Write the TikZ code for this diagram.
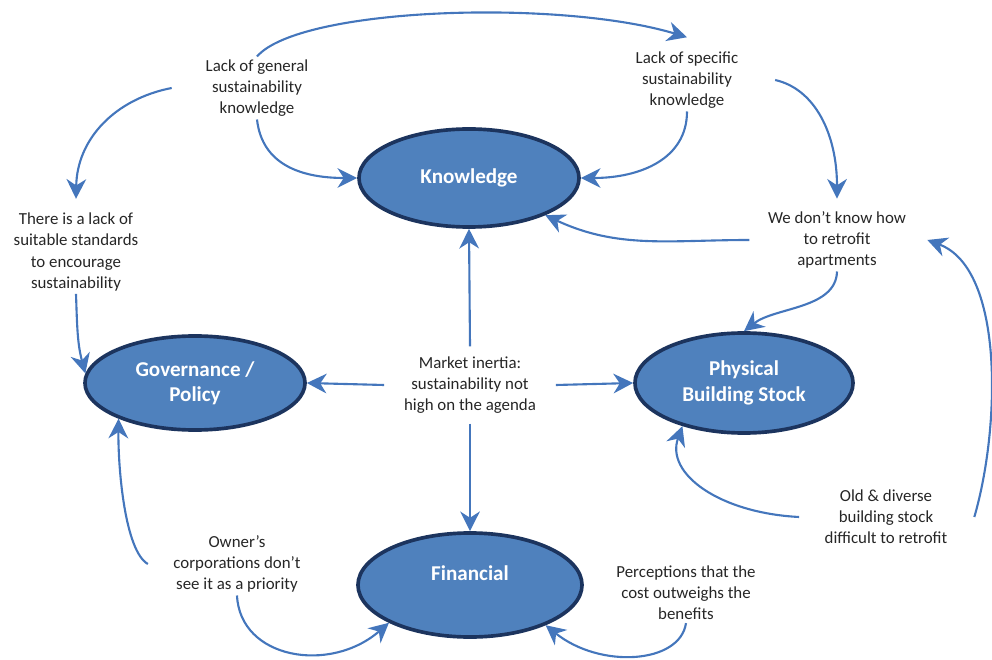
\documentclass[tikz,border=0pt]{standalone}
\usepackage{fontspec}
\setmainfont{Carlito}
\usetikzlibrary{arrows.meta,shapes.geometric,positioning}
\definecolor{hubblue}{RGB}{79,129,189}
\definecolor{hubedge}{RGB}{28,52,94}
\definecolor{arrblue}{RGB}{68,118,188}
\tikzset{  hub/.style={draw=hubedge,line width=2.6pt,fill=hubblue,ellipse,inner sep=0pt,minimum width=5.5cm,minimum height=2.45cm,align=center,text=white,font=\fontsize{15}{18}\selectfont\bfseries},
  note/.style={align=center,inner sep=2pt,text=black!85,font=\fontsize{12}{15}\selectfont},
  arr/.style={draw=arrblue,line width=1.5pt,-{Stealth[length=14pt,width=14pt,inset=4.5pt]}} }

\begin{document}
\begin{tikzpicture}[x=0.025cm,y=0.025cm]
    \useasboundingbox (0,0) rectangle (992,659);
    \node[hub] (know) at (469,481) {Knowledge};
    \node[hub,minimum height=2.35cm] (gov) at (195,276) {Governance /\\Policy};
    \node[hub,minimum width=5.45cm,minimum height=2.5cm] (phys) at (744,276) {Physical\\Building Stock};
    \node[hub,minimum width=5.6cm,minimum height=2.6cm,text height=10pt,text depth=17pt] (fin) at (470,74) {Financial};
    \node[note] (genk) at (257,571) {Lack of general\\sustainability\\knowledge};
    \node[note] (speck) at (687,579) {Lack of specific\\sustainability\\knowledge};
    \node[note] (stand) at (76,407) {There is a lack of\\suitable standards\\to encourage\\sustainability};
    \node[note] (dontk) at (837,419) {We don’t know how\\to retrofit\\apartments};
    \node[note,inner xsep=14pt,inner ysep=7pt] (market) at (470,274) {Market inertia:\\sustainability not\\high on the agenda};
    \node[note] (old) at (886,142) {Old \& diverse\\building stock\\difficult to retrofit};
    \node[note] (owner) at (237,95) {Owner’s\\corporations don’t\\see it as a priority};
    \node[note] (percep) at (686,66) {Perceptions that the\\cost outweighs the\\benefits};
    % knowledge loop
    \draw[arr] (genk.north) .. controls (300,652) and (560,660) .. ([yshift=8pt]speck.north);
    \draw[arr] ([xshift=-22pt]genk.west) .. controls (115,560) and (77,520) .. ([yshift=8pt]stand.north);
    \draw[arr] (genk.south) .. controls (262,495) and (300,481) .. (know.west);
    \draw[arr] (speck.south) .. controls (687,500) and (640,481) .. (know.east);
    \draw[arr] ([xshift=24pt]speck.east) .. controls (815,570) and (837,525) .. ([yshift=7pt]dontk.north);
    \draw[arr] ([xshift=-11pt]dontk.west) to[out=180,in=-25] (know.-26);
    \draw[arr] (dontk.south) .. controls (836,350) and (775,352) .. (phys.north);
    % building stock
    \draw[arr] ([xshift=17pt]old.east) .. controls (1000,230) and (1005,390) .. ([xshift=13pt]dontk.east);
    \draw[arr] ([xshift=-16pt]old.west) .. controls (720,146) and (665,185) .. (phys.215);
    % market inertia
    \draw[arr] (market.north) -- (know.south);
    \draw[arr] (market.west) -- (gov.east);
    \draw[arr] (market.east) -- (phys.west);
    \draw[arr] (market.south) -- (fin.north);
    % governance and financial
    \draw[arr] (stand.south) to[out=-88,in=105] (gov.175);
    \draw[arr] ([xshift=-16pt]owner.west) .. controls (125,108) and (118,190) .. (gov.205);
    \draw[arr] (owner.south) .. controls (240,0) and (330,-15) .. (fin.205);
    \draw[arr] (percep.south) .. controls (680,-5) and (600,-10) .. (fin.-28);
\end{tikzpicture}
\end{document}
